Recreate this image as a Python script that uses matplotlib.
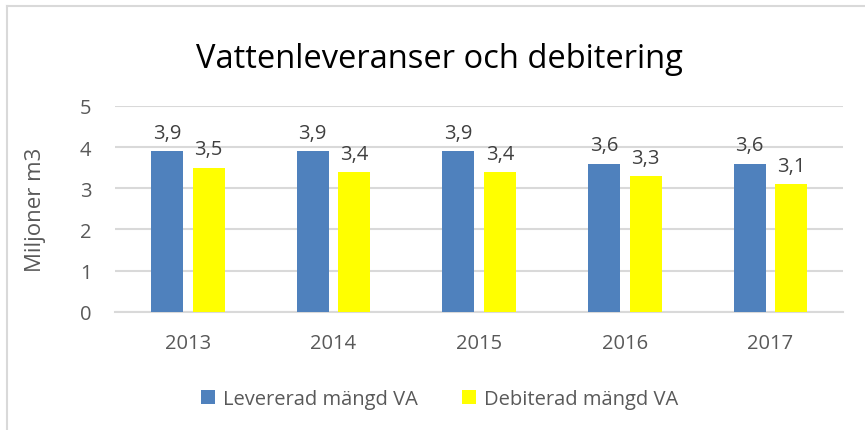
import matplotlib.pyplot as plt
import numpy as np
from matplotlib.lines import Line2D

years = ['2013', '2014', '2015', '2016', '2017']
levererad = [3.9, 3.9, 3.9, 3.6, 3.6]
debiterad = [3.5, 3.4, 3.4, 3.3, 3.1]
series_names = ['Levererad mängd VA', 'Debiterad mängd VA']

plt.rcParams['font.family'] = ['Open Sans', 'DejaVu Sans']

fig = plt.figure(figsize=(8.65, 4.31), dpi=100)
ax = fig.add_axes([0.133, 0.274, 0.842, 0.478])

x = np.arange(len(years))
w = 0.22
blue_bars = ax.bar(x - 0.143, levererad, w, color='#4F81BD', label=series_names[0], zorder=3)
yellow_bars = ax.bar(x + 0.143, debiterad, w, color='#FFFF00', label=series_names[1], zorder=3)

for bars, vals in [(blue_bars, levererad), (yellow_bars, debiterad)]:
    for b, v in zip(bars, vals):
        ax.text(b.get_x() + b.get_width() / 2, v + 0.2, f'{v:.1f}'.replace('.', ','),
                ha='center', va='bottom', fontsize=14.5, color='#404040')

ax.set_xlim(-0.5, len(years) - 0.5)
ax.set_ylim(0, 5)
ax.set_yticks(range(6))
ax.set_xticks(x)
ax.set_xticklabels(years)
ax.tick_params(axis='both', length=0, labelsize=14.5, colors='#595959')
ax.tick_params(axis='y', pad=17)
ax.tick_params(axis='x', pad=15)
ax.grid(axis='y', color='#D9D9D9', linewidth=1.5, zorder=0)
for s in ['top', 'right', 'left']:
    ax.spines[s].set_visible(False)
ax.spines['bottom'].set_color('#D9D9D9')
ax.spines['bottom'].set_linewidth(1.5)

ax.set_ylabel('Miljoner m3', fontsize=16, color='#595959', labelpad=24)

fig.text(0.508, 0.863, 'Vattenleveranser och debitering', ha='center', va='center',
         fontsize=23.5, color='#000000')

fig.legend(loc='center', bbox_to_anchor=(0.508, 0.072), ncol=2, frameon=False,
           fontsize=14.5, labelcolor='#595959', handlelength=0.7, handleheight=0.7,
           columnspacing=2.2, handletextpad=0.4)

# chart frame (only left and top edges visible)
fig.add_artist(Line2D([0.0081, 0.0081], [0, 0.984], color='#D9D9D9', lw=1.5, transform=fig.transFigure))
fig.add_artist(Line2D([0.0081, 1.0], [0.984, 0.984], color='#D9D9D9', lw=1.5, transform=fig.transFigure))

fig.savefig('out.png', dpi=100, facecolor='white')
